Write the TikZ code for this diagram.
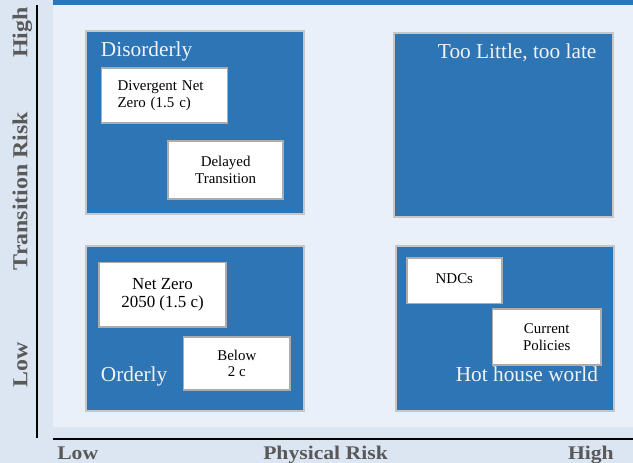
\documentclass[tikz,border=0pt]{standalone}
\usepackage{fontspec}
\setmainfont{Liberation Serif}
\newfontfamily\axisfont[FakeStretch=1.12]{Liberation Serif}
\definecolor{pagebg}{HTML}{DCE6F2}
\definecolor{panelbg}{HTML}{E9F0FA}
\definecolor{quadblue}{HTML}{2E75B6}
\definecolor{axisgray}{HTML}{595959}
\newcommand{\px}{0.75pt}

\begin{document}
\begin{tikzpicture}[x=0.75pt, y=-0.75pt,
    quad/.style={draw=gray!45, line width=1.2pt, fill=quadblue, anchor=north west, inner sep=0pt},
    qlabel/.style={text=white!95!black, inner sep=0pt, font=\fontsize{16}{19}\selectfont},
    wbox/.style={draw=gray!65, line width=1.3pt, fill=white, anchor=north west, inner sep=0pt,
      align=center, font=\fontsize{11.2}{12.5}\selectfont},
    axislabel/.style={text=axisgray, inner sep=0pt, font=\axisfont\bfseries\fontsize{14.5}{17}\selectfont}]
  % background
  \useasboundingbox (0,0) rectangle (633,463);
  \fill[pagebg] (0,0) rectangle (633,463);
  \fill[quadblue] (52.7,0) rectangle (633,5);
  \fill[panelbg] (52.7,5) rectangle (633,427);

  % axes
  \draw[line width=1.5pt] (36.7,5) -- (36.7,438);
  \draw[line width=1.5pt] (52.7,439) -- (633,439);
  \foreach \t/\y in {High/32.5, Transition Risk/191, Low/365} {
    \node[axislabel, font=\axisfont\bfseries\fontsize{16}{19}\selectfont, rotate=90, anchor=base] (v-\y) at (27.5,\y) {\t};
  }
  \node[axislabel, anchor=base west] (xlow) at (57,460) {Low};
  \node[axislabel, anchor=base west] (xmid) at (263,460) {Physical Risk};
  \node[axislabel, anchor=base east] (xhigh) at (614,460) {High};

  % quadrants
  \node[quad, minimum width=218*\px, minimum height=183*\px] (dis) at (85,30) {};
  \node[quad, minimum width=219*\px, minimum height=184*\px] (tlt) at (393,32) {};
  \node[quad, minimum width=218*\px, minimum height=165*\px] (ord) at (85,245) {};
  \node[quad, minimum width=218*\px, minimum height=165*\px] (hhw) at (395,245) {};

  \node[qlabel, anchor=base west] (dis-t) at (100.7,56.7) {Disorderly};
  \node[qlabel, anchor=base east] (tlt-t) at (596.7,58.3) {Too Little, too late};
  \node[qlabel, anchor=base west] (ord-t) at (100.7,381.7) {Orderly};
  \node[qlabel, anchor=base east] (hhw-t) at (598.3,381.7) {Hot house world};

  % scenarios
  \node[wbox, align=left, text width=94*\px, inner xsep=16*\px, minimum height=55*\px] (dnz) at (100.7,67) {Divergent Net\\Zero (1.5 c)};
  \node[wbox, minimum width=115*\px, minimum height=58.3*\px] (dt) at (167.3,140) {Delayed\\Transition};
  \node[wbox, minimum width=126.7*\px, minimum height=64.3*\px,
    font=\fontsize{12.7}{13.7}\selectfont] (nz) at (98.3,261.7) {Net Zero\\2050 (1.5 c)};
  \node[wbox, minimum width=106.6*\px, minimum height=53.3*\px] (b2c) at (182.7,336) {Below\\2 c};
  \node[wbox, minimum width=95*\px, minimum height=45.4*\px, text depth=5*\px] (ndc) at (406,257.3) {NDCs};
  \node[wbox, minimum width=108.3*\px, minimum height=56*\px] (cp) at (491.7,308.3) {Current\\Policies};
\end{tikzpicture}
\end{document}
